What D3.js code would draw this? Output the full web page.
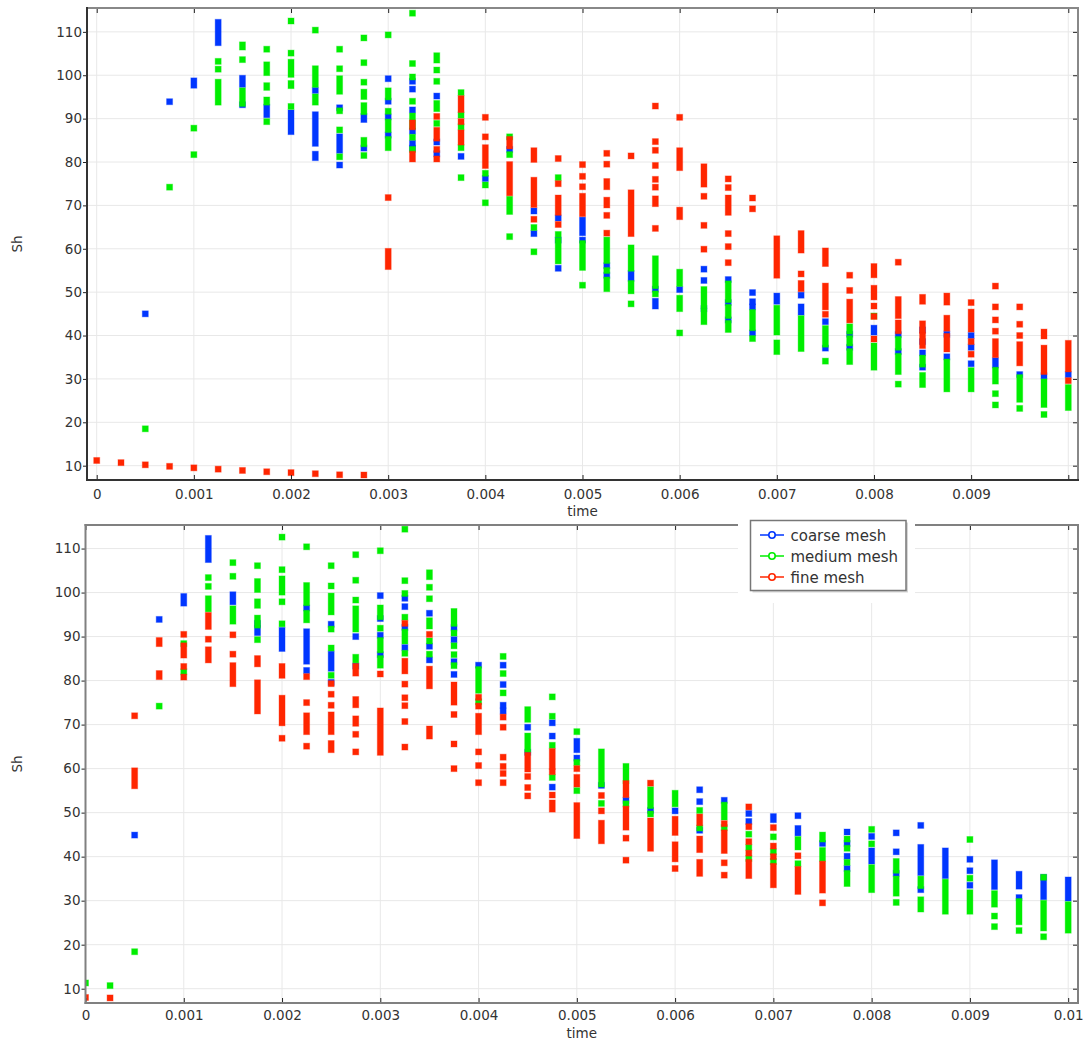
<!DOCTYPE html>
<html>
<head>
<meta charset="utf-8">
<script src="https://cdn.jsdelivr.net/npm/d3@7"></script>
<style>
  body { margin: 0; background: #fff; }
  text { font-family: "DejaVu Sans", sans-serif; }
</style>
</head>
<body>
<div id="container"></div>
<script>
/* DATA : [time, [Sh values]] , a pair [lo, hi] is a run of overlapping markers */
const yTicks = [10, 20, 30, 40, 50, 60, 70, 80, 90, 100, 110];
const xTicks = [0, 0.001, 0.002, 0.003, 0.004, 0.005, 0.006, 0.007, 0.008, 0.009, 0.01];
const xLabelsTop = ["0", "0.001", "0.002", "0.003", "0.004", "0.005", "0.006", "0.007", "0.008", "0.009", ""];
const xLabelsBottom = ["0", "0.001", "0.002", "0.003", "0.004", "0.005", "0.006", "0.007", "0.008", "0.009", "0.01"];
const seriesNames = ["coarse mesh", "medium mesh", "fine mesh"];

// top plot
const topCoarse = [
  [0.0005, [45]], [0.00075, [93.9]], [0.001, [[97.7, 98.7]]], [0.00125, [[107.5, 112.2]]],
  [0.0015, [[97.9, 99.3], 93.2]], [0.00175, [[90.9, 92.6]]], [0.002, [[87, 91.3]]],
  [0.00225, [96.5, [84.3, 90.9], [81, 81.8]]], [0.0025, [92.5, [82.7, 85.8], 79.3]],
  [0.00275, [[89.8, 90.5], 83.2]], [0.003, [99.2, 94, 90.4, 86.2]],
  [0.00325, [98.6, 96.8, 92, 87.1, 84.3, 83.2]], [0.0035, [95.2, 84.6, 81.9]],
  [0.00375, [81.3]], [0.004, [76.2]], [0.00425, [82.9]], [0.0045, [68.7, 63.5]],
  [0.00475, [67.1, 62, 55.5]], [0.005, [[63.7, 66.6], 62]], [0.00525, [56.1, 53.9]],
  [0.0055, [[53.2, 54.3]]], [0.00575, [50.7, [46.8, 47.9]]], [0.006, [50.6]],
  [0.00625, [55.3, 52.7, 46.2]], [0.0065, [52.9, 47.6, 43.6]], [0.00675, [49.9, 47.8, 46.6, 40.6]],
  [0.007, [[47.9, 49.1]]], [0.00725, [49.3, [45.4, 46.6]]], [0.0075, [43.2, 37.1]],
  [0.00775, [40.3, 37.3]], [0.008, [[40.8, 41.7]]], [0.00825, [40.2, 36.3]],
  [0.0085, [41.3, 38.6, 36, 32.7]], [0.00875, [40.3, 35.1]], [0.009, [40, 37.3, 33.5]],
  [0.00925, [[33.2, 34.2]]], [0.0095, [31]], [0.00975, [30.7]], [0.01, [31]]
];
const topMedium = [
  [0.0005, [18.5]], [0.00075, [74.2]], [0.001, [87.8, 81.7]],
  [0.00125, [103.2, 101.4, [93.8, 98.4]]], [0.0015, [[106.5, 107], 103.6, [93.5, 96.4]]],
  [0.00175, [106, [100.6, 102.4], [97.2, 97.6], [93.8, 94.3], 89.3]],
  [0.002, [112.5, 105.1, [100.2, 103], [97.6, 98.1], 92.8]],
  [0.00225, [110.4, [97.9, 101.5], [93.8, 95]]],
  [0.0025, [106, 101.5, [96.3, 99.2], 91.8, 87.4, 81.2]],
  [0.00275, [108.6, 102.9, 98.4, [95.1, 96.1], [91.6, 93], [84.2, 85], 81.5]],
  [0.003, [109.3, [95, 96.4], 91.7, [87.5, 89.2], [83.3, 85.2]]],
  [0.00325, [114.3, 102.7, 99.6, 94, [88.3, 90.6], 85.7, 82.9]],
  [0.0035, [[103.5, 104.5], 101.2, 98.6, [92.3, 93.5], 88.9]],
  [0.00375, [96, 90.8, 88.1, 83.3, 76.4]], [0.004, [77.4, 74.7, 70.6]],
  [0.00425, [85.8, 81.7, [68.6, 71.4], 62.8]], [0.0045, [64.9, 59.3]],
  [0.00475, [76.4, 63.3, [57.2, 61.8]]], [0.005, [[55.7, 61.2], 51.6]],
  [0.00525, [[57.3, 62], 55, [50.8, 52.8]]], [0.0055, [[55.5, 60.2], [50.3, 52], 47.3]],
  [0.00575, [[51.5, 57.7], 49.6]], [0.006, [[52, 54.6], [46.2, 48.6], 40.6]],
  [0.00625, [[46.9, 50.6], [43.2, 45.6]]], [0.0065, [[48.3, 51.9], [44.6, 46.5], [41.4, 42.8]]],
  [0.00675, [[41.8, 45.3], 39.3]], [0.007, [[40.8, 46.3], [36.3, 38.3]]],
  [0.00725, [[37, 43.9]]], [0.0075, [[38, 41.6], 34.1]],
  [0.00775, [[41, 42], [38.3, 39.3], [34, 36.3]]], [0.008, [44.5, [32.7, 37.6]]],
  [0.00825, [[37.3, 39.1], [31.7, 35.2], 28.8]], [0.0085, [[33.4, 34.8], [28.7, 30.8]]],
  [0.00875, [[27.7, 33.9]]], [0.009, [[27.7, 31.9]]], [0.00925, [[29.5, 32], 26.6, 24]],
  [0.0095, [[25.3, 30.3], 23.2]], [0.00975, [[24.1, 29.3], 21.8]], [0.01, [[23.4, 28]]]
];
const topFine = [
  [0, [11.2]], [0.00025, [10.7]], [0.0005, [10.2]], [0.00075, [9.85]], [0.001, [9.5]],
  [0.00125, [9.2]], [0.0015, [8.9]], [0.00175, [8.6]], [0.002, [8.4]], [0.00225, [8.15]],
  [0.0025, [7.9]], [0.00275, [7.85]],
  [0.003, [71.8, [55.9, 59.4]]], [0.00325, [[88.1, 89], [80.7, 81.8]]],
  [0.0035, [90.5, [85.5, 87.3], 82.9, 80.7]], [0.00375, [[92.1, 94.6], 89.3, [84.6, 86.7]]],
  [0.004, [90.3, 85.8, [79.2, 83.3]]], [0.00425, [[83.7, 85.2], [72.9, 79.4]]],
  [0.0045, [[80.6, 82.6], [70.2, 75.8], 66.8]], [0.00475, [80.8, 75, [68.4, 71.7], 65.6]],
  [0.005, [79.4, 76.7, 74.3, [68.1, 72.1]]],
  [0.00525, [82, 79.5, [74.3, 75.5], [70.1, 71.2], 67.7, 63.6]],
  [0.0055, [81.4, [63.5, 72.9]]],
  [0.00575, [92.9, 84.7, 82.7, 79.2, 76, 74.2, [70.4, 71.5], 64.7]],
  [0.006, [90.3, [78.7, 82.6], [67.4, 68.9]]], [0.00625, [[74.9, 78.9], 72.1, 65.4, 59.9]],
  [0.0065, [76.1, 74.1, [68.4, 71.7], 63.5, 60.5, 56.8]], [0.00675, [71.7, 69.2]],
  [0.007, [[53.9, 62.3]]], [0.00725, [[59.7, 63.5], 54.2, [50.8, 52]]],
  [0.0075, [[56.6, 59.5], [46.6, 51.4], 44.9]], [0.00775, [53.9, 50.4, [43.6, 47.7]]],
  [0.008, [[54, 55.9], [48.9, 50.9], 46.8, 44.4, 39.2]],
  [0.00825, [56.9, [44.6, 48.3], [41.1, 42.9]]], [0.0085, [[47.9, 48.8], [41.2, 42.7], [37.7, 40]]],
  [0.00875, [[47.7, 49.1], [41.7, 44], [36.9, 39.8]]], [0.009, [47.6, [41.5, 45.4], 38.6, 35.7]],
  [0.00925, [51.4, 46.6, 43.6, 41, [35.6, 38.6]]], [0.0095, [46.6, 42.6, 40, [33.7, 37.9]]],
  [0.00975, [[39.9, 40.8], [31.7, 37.1]]], [0.01, [[32.3, 38.2], 29.6]]
];

// bottom plot
const botCoarse = [
  [0.0005, [44.9]], [0.00075, [93.9]], [0.001, [[97.6, 99.1]]], [0.00125, [[107.5, 112.3]]],
  [0.0015, [[97.9, 99.5]]], [0.00175, [93, [90.9, 91.8]]], [0.002, [[87.3, 91.4]]],
  [0.00225, [96.5, [84.4, 91.1], 82.3]], [0.0025, [92.8, [82.8, 86], 79.6]],
  [0.00275, [90, 83.3]], [0.003, [99.3, 94.1, 90.3, 85.9]], [0.00325, [98.7, 96.8, 92.1, 87.5]],
  [0.0035, [95.3, 87.8, 84.7]], [0.00375, [92, 89.3, 84.3, 81.4]], [0.004, [83.5]],
  [0.00425, [83.5, 79.1, 74.4, 73.1]], [0.0045, [69.4, 63.7]], [0.00475, [70.4, 67.4, 55.8]],
  [0.005, [[64.3, 66.2], 62.4]], [0.00525, [56.2]], [0.0055, [52.8]], [0.00575, [50.5]],
  [0.006, [50.4]], [0.00625, [55.2, 52.5, 46]], [0.0065, [52.8]], [0.00675, [49.8, 48]],
  [0.007, [[48.4, 49.1]]], [0.00725, [49.3, [45.4, 46.4]]], [0.0075, [43]],
  [0.00775, [45.6, 43, 40.1, 37.3]], [0.008, [44.6, [39, 41.3]]], [0.00825, [45.4, 41.1, 36.2]],
  [0.0085, [47.1, [36.4, 42.1], 32.5]], [0.00875, [[35.7, 41.3]]], [0.009, [39.4, 36.8, 33.5]],
  [0.00925, [[33.2, 38.6]]], [0.0095, [[33.3, 36], 30.7]], [0.00975, [[30.9, 35.3]]],
  [0.01, [[30.6, 34.7]]]
];
const botMedium = [
  [0, [11.3]], [0.00025, [10.7]], [0.0005, [18.4]], [0.00075, [74.2]], [0.001, [88.4, 82]],
  [0.00125, [103.4, 101.4, [96.3, 98.6]]], [0.0015, [106.8, 103.7, [93.5, 96.3]]],
  [0.00175, [106.1, [100.7, 102.5], [97.1, 97.9], [92.6, 94.2], 89.3]],
  [0.002, [112.6, 105.2, [100.1, 103.1], 97.9, 92.9]],
  [0.00225, [110.4, [97.7, 101.6], [93.8, 95.3]]],
  [0.0025, [106.1, 101.5, [95.6, 99.2], 91.7, 87.4, 81.2]],
  [0.00275, [108.6, 102.8, 98.3, [91.7, 96.3], [84.7, 85.3]]],
  [0.003, [109.5, [94.5, 96.5], 91.9, [87, 89.1], [83.5, 85]]],
  [0.00325, [114.4, 102.7, 99.8, 94.4, [89, 91], 86.2]],
  [0.0035, [[103.6, 104.5], 101.2, 98.6, [92.4, 93.6], 89, 86]],
  [0.00375, [[93, 95.7], 90.8, 87.9, 85.9, 83.4]], [0.004, [[77.8, 82.5], 75.2]],
  [0.00425, [85.5, 81.6, 77.2]], [0.0045, [[71.2, 73.4], [64.4, 67.4]]],
  [0.00475, [76.3, 71.9, 65.3, 58]], [0.005, [68.4, 61.4, 55]], [0.00525, [[56.5, 63.8], 52.1]],
  [0.0055, [[57.3, 60.5], 52]], [0.00575, [[51.6, 55.2], 49.7]], [0.006, [[52, 54.4]]],
  [0.00625, [50.5, 46.5]], [0.0065, [[49, 51.7], 46.6]], [0.00675, [45.1, 42.1, 39.6]],
  [0.007, [44.5, 41.1, 38.9]], [0.00725, [[42.2, 43.9], 38.4]], [0.0075, [[44, 44.9], [39.6, 41.4]]],
  [0.00775, [44, 41.9, 38.7, [33.9, 36.2]]], [0.008, [46.2, 42.9, [32.5, 37.5]]],
  [0.00825, [[36.9, 38.9], [31.7, 34.9], 29.6]], [0.0085, [[33.4, 34.9], [28.1, 30.2]]],
  [0.00875, [[27.6, 34.2]]], [0.009, [43.9, 35.1, [27.6, 31.8]]],
  [0.00925, [[29.2, 31.6], 26.5, 24.1]], [0.0095, [[25.2, 29.8], 23.2]],
  [0.00975, [35.3, [23.8, 29.4], 21.8]], [0.01, [[23.3, 29.1]]]
];
const botFine = [
  [0, [8]], [0.00025, [7.9]], [0.0005, [72, [56.1, 59.5]]], [0.00075, [[88.4, 89.1], [80.9, 81.6]]],
  [0.001, [90.5, [85.8, 87.9], 83.2, 80.8]], [0.00125, [[92.3, 94.8], 89.4, [84.7, 87]]],
  [0.0015, [90.4, 86, [79.3, 83.4]]], [0.00175, [[83.8, 85], [73.1, 79.5]]],
  [0.002, [[81.2, 83.2], [70.4, 76], 66.9]], [0.00225, [80.9, 75, [68.4, 72], 65.1]],
  [0.0025, [79.3, 76.9, 74.4, [68.4, 72.2], [64.3, 65.7]]],
  [0.00275, [[81.7, 83.2], [74.5, 75.7], [70.3, 71.3], 67.8, 63.8]],
  [0.003, [81.5, [63.7, 73.1]]], [0.00325, [93, [82.2, 84.4], 79.2, 76.1, 74.3, 70.7, 64.9]],
  [0.0035, [90.5, [78.8, 82.6], [67.4, 69]]], [0.00375, [[75.1, 79], 72.3, 65.6, 60]],
  [0.004, [76.2, 74.2, [68.4, 71.9], 63.8, 60.7, 56.8]],
  [0.00425, [71.7, 69.4, 62.6, 60.5, 58.9, 56.8]], [0.0045, [[59.9, 63], 58.2, 55.7, 53.8]],
  [0.00475, [[60.5, 63.9], 59.3, 54, [50.8, 52.2]]], [0.005, [60, [56.5, 58], [44.8, 51.6]]],
  [0.00525, [53.9, 50.4, [43.6, 47.6]]], [0.0055, [[54.1, 56.6], [46.7, 50.8], 44.2, 39.2]],
  [0.00575, [56.7, [41.9, 48.1]]], [0.006, [[45.5, 48.5], [39.5, 42.7], 37.3]],
  [0.00625, [[47.7, 49], [41.6, 44], [36.2, 38.7]]], [0.0065, [47.5, [41.4, 45.4], 38.6, 35.8]],
  [0.00675, [51.3, 46.8, 43.4, 40.8, [35.7, 38.7]]], [0.007, [46.6, 42.4, 40, [33.6, 37.8]]],
  [0.00725, [40.2, [32.1, 37.1]]], [0.0075, [[32.4, 38.3], 29.5]]
];

/* STYLE */
const colors = ["#0036ff", "#00ee00", "#ff2600"];
const width = 1084;
const height = 1040;
const textColor = "#333";

const svg = d3.select("#container").append("svg")
  .attr("width", width)
  .attr("height", height);

// expand [t, [v | [lo,hi]]] into marker runs
function toRuns(rows) {
  const out = [];
  rows.forEach(([t, vals]) => vals.forEach(v => {
    const [lo, hi] = Array.isArray(v) ? v : [v, v];
    out.push({ t, lo, hi });
  }));
  return out;
}

function drawPanel(p) {
  const x = d3.scaleLinear().domain(p.xDomain).range([p.left, p.right]);
  const y = d3.scaleLinear().domain(p.yDomain).range([p.bottom, p.top]);
  const g = svg.append("g");

  // grid
  g.append("g").selectAll("line").data(yTicks).join("line")
    .attr("x1", p.left).attr("x2", p.right)
    .attr("y1", d => y(d)).attr("y2", d => y(d))
    .attr("stroke", "#e8e8e8");
  g.append("g").selectAll("line").data(xTicks).join("line")
    .attr("x1", d => x(d)).attr("x2", d => x(d))
    .attr("y1", p.top).attr("y2", p.bottom)
    .attr("stroke", "#e8e8e8");

  // markers
  svg.append("clipPath").attr("id", p.id)
    .append("rect")
    .attr("x", p.left).attr("y", p.top)
    .attr("width", p.right - p.left).attr("height", p.bottom - p.top);
  const mg = g.append("g").attr("clip-path", `url(#${p.id})`);
  p.series.forEach((rows, i) => {
    mg.append("g").selectAll("rect").data(toRuns(rows)).join("rect")
      .attr("x", d => x(d.t) - 3)
      .attr("y", d => y(d.hi) - 3)
      .attr("width", 6)
      .attr("height", d => y(d.lo) - y(d.hi) + 6)
      .attr("fill", colors[i])
      .attr("stroke", colors[i])
      .attr("stroke-opacity", 0.35);
  });

  // axes
  const axes = [
    g.append("g").attr("transform", `translate(${p.left},0)`)
      .call(d3.axisLeft(y).tickValues(yTicks).tickSizeInner(4).tickSizeOuter(0).tickPadding(1)),
    g.append("g").attr("transform", `translate(${p.right},0)`)
      .call(d3.axisRight(y).tickValues(yTicks).tickSizeInner(-5).tickSizeOuter(0).tickFormat("")),
    g.append("g").attr("transform", `translate(0,${p.bottom})`)
      .call(d3.axisBottom(x).tickValues(xTicks).tickSizeInner(-5).tickSizeOuter(0).tickPadding(p.tickPad)
        .tickFormat((d, i) => p.xLabels[i])),
    g.append("g").attr("transform", `translate(0,${p.top})`)
      .call(d3.axisTop(x).tickValues(xTicks).tickSizeInner(-5).tickSizeOuter(0).tickFormat(""))
  ];
  axes.forEach(a => {
    a.select(".domain").remove();
    a.attr("font-family", "DejaVu Sans, sans-serif").attr("font-size", 13.5);
    a.selectAll(".tick line").attr("stroke", "#222");
    a.selectAll(".tick text").attr("fill", textColor);
  });

  // frame
  const frame = [
    [p.left, p.top, p.right, p.top, p.frameLight],
    [p.right, p.top, p.right, p.bottom, p.frameLight],
    [p.left, p.top, p.left, p.bottom, p.frameDark],
    [p.left, p.bottom, p.right, p.bottom, p.frameDark]
  ];
  g.append("g").selectAll("line").data(frame).join("line")
    .attr("x1", d => d[0]).attr("y1", d => d[1])
    .attr("x2", d => d[2]).attr("y2", d => d[3])
    .attr("stroke", d => d[4])
    .attr("stroke-width", 2)
    .attr("stroke-linecap", "square");

  // titles
  g.append("text")
    .attr("x", (p.left + p.right) / 2)
    .attr("y", p.bottom + p.titleGap)
    .attr("text-anchor", "middle")
    .attr("font-size", 13.5)
    .attr("fill", textColor)
    .text("time");
  g.append("text")
    .attr("transform", `translate(22,${(p.top + p.bottom) / 2}) rotate(-90)`)
    .attr("text-anchor", "middle")
    .attr("font-size", 13.5)
    .attr("fill", textColor)
    .text("Sh");
}

drawPanel({
  id: "clipTop", left: 87, right: 1078, top: 8, bottom: 480, titleGap: 36, tickPad: 9,
  xDomain: [-0.0001, 0.0101], yDomain: [6.7, 115.5],
  xLabels: xLabelsTop, series: [topCoarse, topMedium, topFine],
  frameLight: "#888", frameDark: "#333"
});

drawPanel({
  id: "clipBottom", left: 85.5, right: 1078, top: 525, bottom: 1003, titleGap: 35, tickPad: 7,
  xDomain: [0, 0.0101], yDomain: [6.75, 115.35],
  xLabels: xLabelsBottom, series: [botCoarse, botMedium, botFine],
  frameLight: "#808080", frameDark: "#808080"
});

/* LEGEND */
const legend = svg.append("g");
legend.append("rect")
  .attr("x", 738).attr("y", 507).attr("width", 177).attr("height", 96)
  .attr("fill", "#fff");
legend.append("rect")
  .attr("x", 752.5).attr("y", 522.5).attr("width", 155.5).attr("height", 70)
  .attr("fill", "#bbb").attr("opacity", 0.6);
legend.append("rect")
  .attr("x", 750.5).attr("y", 520.5).attr("width", 155.5).attr("height", 70)
  .attr("fill", "#fff").attr("stroke", "#777").attr("stroke-width", 1.5);

const rows = legend.selectAll(".entry").data(seriesNames).join("g")
  .attr("transform", (d, i) => `translate(0,${535 + i * 21})`);
rows.append("line")
  .attr("x1", 760).attr("x2", 784)
  .attr("stroke", (d, i) => colors[i]).attr("stroke-width", 1.5);
rows.append("circle")
  .attr("cx", 772).attr("r", 3.2)
  .attr("fill", "#fff")
  .attr("stroke", (d, i) => colors[i]).attr("stroke-width", 1.6);
rows.append("text")
  .attr("x", 790.5).attr("y", 5.5)
  .attr("font-size", 15)
  .attr("fill", textColor)
  .text(d => d);
</script>
</body>
</html>
